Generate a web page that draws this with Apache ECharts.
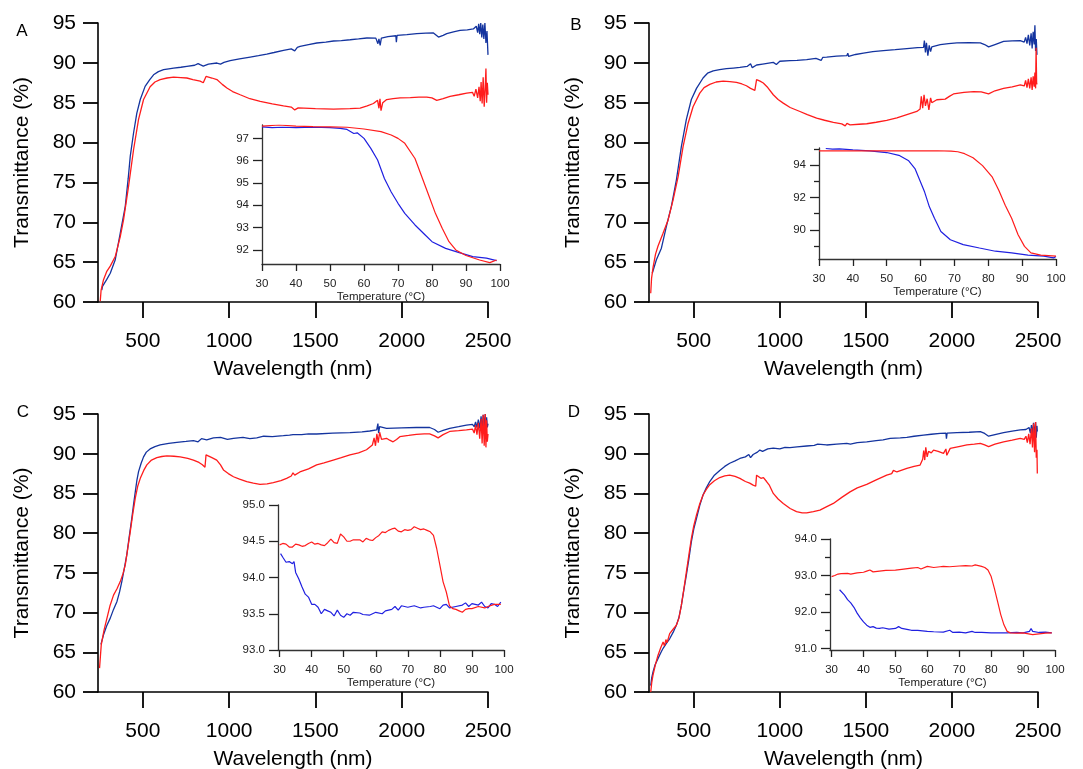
<!DOCTYPE html>
<html><head><meta charset="utf-8">
<script src="https://cdn.jsdelivr.net/npm/echarts@6/dist/echarts.min.js"></script>
<style>html,body{margin:0;padding:0;background:#fff}#c{width:1083px;height:769px}</style>
</head><body><div id="c"></div>
<script>
// ---------------- DATA ----------------
const panelLetters = ['A', 'B', 'C', 'D'];
const wavelengthTicks = [500, 1000, 1500, 2000, 2500];
const temperatureTicks = [30, 40, 50, 60, 70, 80, 90, 100];
const insetA_yTicks = [92, 93, 94, 95, 96, 97];
const insetB_yTicks = [90, 92, 94];
const insetB_yMinorTicks = [89, 91, 93, 95];
const insetC_yTicks = [93, 93.5, 94, 94.5, 95];
const insetD_yTicks = [91, 92, 93, 94];
const insetD_yMinorTicks = [91.5, 92.5, 93.5];

// Panel A main (wavelength nm, transmittance %)
const A_blue = [[262,61.5],[266,61.96],[290,62.8],[311,63.6],[340,65.3],[369,68.65],[398,72],[415,75.5],[427,78.3],[446,81.2],[465,83.7],[485,85.4],[513,87.05],[540,87.9],[562,88.5],[590,88.9],[620,89.14],[650,89.25],[678,89.35],[720,89.45],[755,89.56],[800,89.7],[820,89.9],[832,89.77],[850,89.6],[880,89.85],[929,89.98],[950,89.85],[970,90.05],[1006,90.27],[1060,90.5],[1122,90.73],[1170,90.9],[1218,91.1],[1260,91.3],[1315,91.57],[1360,91.75],[1380,91.5],[1395,91.95],[1411,92.07],[1460,92.3],[1508,92.49],[1560,92.6],[1605,92.74],[1650,92.8],[1701,92.9],[1750,93.0],[1798,93.12],[1850,93.1],[1862,92.4],[1868,93.0],[1875,92.2],[1882,93.1],[1920,93.3],[1966,93.4],[1969,92.6],[1973,93.45],[2030,93.55],[2087,93.66],[2140,93.72],[2184,93.75],[2213,93.24],[2240,93.45],[2261,93.66],[2300,93.9],[2338,94.08],[2380,94.15],[2415,94.25],[2425,94.0],[2432,94.6],[2440,93.8],[2446,94.9],[2452,93.6],[2458,95.0],[2464,93.2],[2470,94.8],[2476,93.0],[2482,95.0],[2488,92.5],[2494,94.0],[2500,91.0]];
const A_red = [[253,60.1],[258,61.5],[272,62.8],[290,63.8],[311,64.5],[340,65.7],[369,68.2],[388,70.3],[417,74.5],[446,79.1],[475,82.9],[504,85.4],[542,87.0],[570,87.6],[600,87.9],[640,88.1],[678,88.2],[720,88.15],[755,88.1],[790,87.9],[832,87.7],[850,87.5],[861,87.4],[866,88.3],[900,88.1],[929,87.9],[960,87.3],[987,86.84],[1020,86.4],[1064,86.0],[1120,85.5],[1180,85.17],[1250,84.85],[1315,84.6],[1360,84.45],[1380,84.1],[1400,84.35],[1411,84.33],[1500,84.25],[1605,84.2],[1700,84.25],[1759,84.33],[1800,84.6],[1836,84.9],[1860,85.3],[1868,84.3],[1874,85.5],[1880,84.0],[1890,85.0],[1913,85.4],[1950,85.5],[1991,85.6],[2050,85.65],[2100,85.7],[2145,85.7],[2175,85.6],[2203,85.3],[2240,85.5],[2280,85.8],[2330,86.0],[2377,86.2],[2410,86.3],[2420,85.8],[2430,86.7],[2440,85.6],[2448,87.0],[2455,85.2],[2460,87.6],[2466,84.9],[2472,88.2],[2478,84.5],[2484,87.0],[2488,89.3],[2492,85.0],[2496,87.5],[2500,86.0]];
// Panel A inset (temperature °C, transmittance %)
const A_inBlue = [[30,97.52],[33,97.48],[36,97.5],[40,97.48],[45,97.5],[50,97.48],[53,97.45],[55,97.4],[57,97.22],[58,97.25],[60,97.0],[62,96.55],[64,96.03],[66,95.2],[68,94.6],[70,94.09],[72,93.64],[75,93.12],[78,92.67],[80,92.37],[84,92.07],[88,91.88],[92,91.7],[96,91.63],[99,91.52]];
const A_inRed = [[30,97.55],[35,97.6],[40,97.55],[45,97.53],[50,97.52],[55,97.5],[60,97.42],[65,97.3],[68,97.15],[70,97.0],[72,96.78],[75,96.1],[77,95.28],[79,94.46],[81,93.64],[83,92.97],[85,92.37],[87,92.0],[90,91.75],[94,91.55],[97,91.43],[99,91.55]];

// Panel B main
const B_blue = [[259,63.6],[283,65.3],[312,66.75],[341,69.5],[370,72],[399,75.3],[428,79.5],[457,82.9],[486,85.4],[516,86.8],[554,88.1],[580,88.7],[613,89.0],[650,89.15],[690,89.27],[730,89.35],[768,89.43],[810,89.55],[830,89.9],[840,89.4],[865,89.73],[900,89.85],[962,90.06],[980,89.8],[1000,90.2],[1059,90.27],[1100,90.3],[1156,90.4],[1210,90.55],[1240,90.3],[1250,90.7],[1272,90.73],[1330,90.85],[1389,90.9],[1395,91.2],[1400,90.8],[1440,91.05],[1486,91.23],[1540,91.4],[1602,91.53],[1670,91.65],[1738,91.78],[1800,91.9],[1835,91.95],[1840,92.8],[1846,91.3],[1852,92.5],[1860,90.9],[1868,92.2],[1876,91.4],[1883,92.0],[1932,92.28],[1980,92.4],[2029,92.5],[2100,92.55],[2165,92.5],[2190,92.3],[2213,92.0],[2250,92.3],[2300,92.7],[2350,92.75],[2397,92.8],[2420,92.6],[2428,93.2],[2436,92.4],[2444,93.5],[2452,92.2],[2460,93.7],[2466,91.8],[2472,93.9],[2478,92.3],[2482,94.7],[2486,91.5],[2490,93.0],[2494,91.0]];
const B_red = [[250,61.1],[255,63.0],[264,64.4],[278,66.0],[292,67.0],[321,68.6],[351,70.3],[380,72.8],[409,75.7],[438,79.5],[467,82.4],[496,84.5],[535,86.2],[560,86.9],[593,87.3],[630,87.6],[671,87.7],[710,87.65],[748,87.55],[780,87.35],[806,87.13],[830,86.8],[855,86.55],[860,86.4],[865,87.9],[885,87.7],[904,87.47],[930,86.9],[962,86.0],[990,85.4],[1020,84.95],[1060,84.4],[1117,83.9],[1160,83.5],[1214,83.07],[1260,82.8],[1311,82.53],[1360,82.35],[1380,82.1],[1390,82.4],[1408,82.23],[1460,82.3],[1505,82.36],[1560,82.55],[1621,82.78],[1680,83.1],[1738,83.5],[1796,83.9],[1815,84.2],[1822,85.8],[1830,84.3],[1838,86.0],[1846,84.6],[1856,85.5],[1866,84.1],[1876,85.6],[1883,85.0],[1912,85.37],[1961,85.45],[1985,85.8],[2009,86.1],[2070,86.3],[2126,86.4],[2170,86.35],[2213,86.1],[2250,86.5],[2300,86.8],[2350,87.0],[2397,87.25],[2420,87.1],[2428,87.8],[2436,86.9],[2444,88.0],[2452,86.8],[2460,88.2],[2466,86.6],[2472,88.3],[2478,87.0],[2482,88.8],[2486,86.8],[2489,91.9],[2492,87.5],[2494,87.3]];
// Panel B inset
const B_inBlue = [[32,95.02],[34,94.98],[36,95.0],[38,94.97],[40,94.93],[45,94.87],[50,94.77],[53.6,94.6],[56.5,94.26],[58.4,93.76],[59.8,93.05],[61.2,92.33],[62.6,91.42],[64.1,90.71],[66,89.9],[68.8,89.39],[72.6,89.09],[77.4,88.88],[82.1,88.68],[86.9,88.58],[91.7,88.44],[96.4,88.38],[99.3,88.27],[100,88.35]];
const B_inRed = [[30,94.87],[40,94.87],[50,94.88],[60,94.87],[65,94.88],[69,94.86],[71,94.82],[73,94.7],[75.5,94.45],[78.3,93.96],[81.2,93.25],[83.1,92.44],[85,91.52],[86.9,90.71],[88.8,89.7],[90.7,88.98],[92.6,88.58],[95.5,88.44],[100,88.38]];

// Panel C main
const C_blue = [[257,66.0],[272,67.2],[290,68.3],[311,69.3],[330,70.4],[350,71.4],[365,72.6],[378,73.9],[392,75.5],[407,77.3],[420,79.4],[436,81.9],[446,83.6],[456,85.2],[465,86.6],[475,87.75],[490,88.8],[504,89.6],[520,90.2],[542,90.6],[570,90.9],[600,91.1],[650,91.3],[697,91.44],[750,91.55],[793,91.65],[820,91.5],[840,91.9],[870,91.75],[909,92.0],[950,92.05],[990,91.8],[1025,91.94],[1080,92.05],[1120,91.9],[1160,92.0],[1200,92.2],[1250,92.15],[1314,92.27],[1350,92.35],[1360,92.1],[1370,92.4],[1420,92.4],[1460,92.5],[1507,92.48],[1600,92.58],[1700,92.65],[1770,92.75],[1815,92.86],[1855,93.0],[1862,93.8],[1866,92.6],[1872,93.4],[1912,93.2],[2000,93.25],[2085,93.3],[2162,93.3],[2190,93.05],[2211,92.7],[2240,92.95],[2278,93.2],[2330,93.4],[2375,93.6],[2410,93.7],[2420,93.4],[2428,94.0],[2436,93.3],[2444,94.3],[2452,93.2],[2460,94.7],[2466,92.9],[2472,94.9],[2478,93.5],[2484,95.0],[2488,93.0],[2492,94.6],[2496,93.3],[2500,93.8]];
const C_red = [[249,63.0],[254,64.5],[259,65.96],[275,67.8],[292,69.3],[310,70.9],[330,72.2],[350,73.0],[369,73.9],[385,74.9],[398,76.0],[412,78.0],[427,80.2],[442,82.5],[456,84.4],[470,85.9],[485,86.9],[505,87.9],[523,88.6],[550,89.2],[581,89.5],[610,89.65],[639,89.72],[680,89.68],[716,89.6],[760,89.4],[793,89.2],[825,88.9],[845,88.6],[855,88.46],[860,88.3],[866,89.85],[900,89.5],[928,89.2],[950,88.6],[967,87.96],[995,87.5],[1025,87.1],[1060,86.8],[1102,86.5],[1140,86.3],[1179,86.15],[1220,86.2],[1256,86.37],[1300,86.6],[1333,86.9],[1360,87.2],[1370,87.6],[1380,87.3],[1410,87.7],[1460,88.1],[1507,88.6],[1550,88.85],[1603,89.2],[1650,89.5],[1700,89.85],[1750,90.1],[1796,90.5],[1830,91.1],[1840,92.0],[1848,91.0],[1856,92.5],[1864,91.4],[1872,92.7],[1883,91.8],[1912,91.94],[1930,91.7],[1950,91.5],[1970,91.8],[1989,92.15],[2040,92.3],[2085,92.44],[2130,92.5],[2162,92.5],[2190,92.25],[2211,92.0],[2240,92.4],[2278,92.8],[2330,92.9],[2375,93.0],[2410,93.1],[2420,92.6],[2428,93.6],[2436,92.4],[2444,93.9],[2452,91.9],[2460,94.4],[2466,91.3],[2472,94.9],[2478,91.0],[2484,95.0],[2488,90.8],[2492,94.2],[2496,91.5],[2500,92.5]];
// Panel C inset
const C_inBlue = [[30.3,94.33],[31,94.28],[32,94.21],[33,94.22],[34,94.19],[34.5,94.22],[35,94.07],[36,93.98],[37,93.87],[38,93.77],[39,93.73],[40,93.63],[41,93.63],[42,93.59],[43,93.5],[44,93.56],[45,93.54],[46,93.52],[47,93.47],[48,93.55],[49,93.48],[50,93.45],[51,93.5],[52,93.48],[53,93.52],[55,93.51],[56,93.49],[58,93.48],[60,93.52],[62,93.5],[63,93.54],[65,93.56],[66,93.6],[67,93.55],[68,93.61],[70,93.59],[72,93.61],[74,93.58],[75,93.59],[77,93.6],[78,93.61],[80,93.57],[81,93.62],[82,93.63],[83,93.58],[85,93.6],[87,93.62],[88,93.65],[89,93.6],[90,93.64],[92,93.62],[93,93.66],[94,93.6],[95,93.58],[96,93.64],[97,93.63],[98,93.6],[99,93.66]];
const C_inRed = [[30,94.45],[31,94.47],[32,94.46],[33,94.42],[34,94.42],[35,94.46],[36,94.45],[37,94.43],[38,94.44],[39,94.47],[40,94.49],[41,94.46],[42,94.47],[43,94.45],[44,94.44],[45,94.48],[46,94.53],[47,94.48],[48,94.47],[49,94.6],[50,94.56],[51,94.5],[52,94.5],[53,94.52],[55,94.52],[56,94.49],[57,94.54],[58,94.52],[59,94.51],[60,94.55],[61,94.58],[62,94.63],[63,94.62],[64,94.65],[65,94.67],[66,94.68],[67,94.64],[68,94.63],[69,94.66],[70,94.65],[71,94.66],[72,94.7],[73,94.68],[74,94.66],[75,94.67],[76,94.65],[77,94.63],[78,94.58],[79,94.4],[80,94.17],[81,93.94],[82,93.8],[83,93.61],[84,93.57],[85,93.56],[86,93.54],[87,93.52],[88,93.56],[89,93.57],[90,93.57],[92,93.6],[94,93.58],[95,93.6],[97,93.63],[99,93.63]];

// Panel D main
const D_blue = [[250,60.8],[256,61.8],[263,62.5],[275,63.4],[292,64.2],[310,65.0],[322,65.5],[340,66.1],[360,66.7],[380,67.5],[399,68.4],[414,69.4],[428,70.9],[442,72.8],[457,74.7],[472,76.8],[486,78.9],[500,80.5],[516,81.85],[535,83.5],[554,84.8],[573,85.7],[593,86.5],[620,87.3],[651,87.9],[680,88.4],[709,88.8],[740,89.1],[768,89.4],[800,89.6],[820,89.9],[830,89.5],[845,89.9],[870,90.2],[884,90.46],[900,90.3],[930,90.6],[962,90.7],[1000,90.6],[1030,90.8],[1059,90.76],[1100,90.85],[1156,90.97],[1200,91.05],[1220,91.2],[1272,91.1],[1330,91.2],[1389,91.3],[1400,91.55],[1410,91.2],[1450,91.4],[1505,91.5],[1560,91.65],[1600,91.75],[1641,91.93],[1700,92.0],[1738,92.06],[1780,92.2],[1835,92.35],[1880,92.45],[1932,92.56],[1965,92.6],[1968,91.9],[1972,92.6],[2029,92.65],[2100,92.7],[2165,92.77],[2190,92.55],[2213,92.2],[2250,92.4],[2300,92.65],[2350,92.85],[2397,93.0],[2430,93.05],[2440,92.8],[2448,93.3],[2456,92.6],[2462,93.6],[2468,92.4],[2474,93.9],[2480,92.2],[2486,94.0],[2490,92.0],[2494,93.5],[2496,92.8]];
const D_red = [[250,60.0],[256,61.2],[263,62.1],[278,63.5],[292,64.6],[307,65.5],[322,66.3],[330,65.8],[338,66.6],[345,66.2],[360,67.35],[380,67.9],[399,68.4],[414,69.3],[428,70.9],[442,72.9],[457,75.1],[472,77.3],[486,79.3],[500,80.9],[516,82.3],[535,83.7],[554,84.8],[573,85.5],[593,86.1],[620,86.6],[651,87.0],[680,87.2],[709,87.3],[740,87.15],[768,86.9],[800,86.5],[825,86.3],[845,86.05],[860,85.9],[865,87.3],[890,86.9],[905,87.0],[923,86.5],[940,86.0],[962,85.0],[990,84.3],[1020,83.74],[1060,83.1],[1097,82.7],[1130,82.55],[1156,82.55],[1195,82.7],[1233,82.9],[1270,83.3],[1311,83.74],[1360,84.5],[1408,85.2],[1450,85.7],[1505,86.13],[1560,86.7],[1621,87.3],[1650,87.5],[1660,87.9],[1680,87.7],[1738,88.15],[1780,88.4],[1815,88.57],[1830,89.3],[1836,90.4],[1842,89.2],[1848,90.8],[1856,89.6],[1864,90.3],[1880,90.1],[1893,90.46],[1920,90.3],[1951,90.04],[1960,89.9],[1965,90.6],[1970,89.8],[1990,90.67],[2040,90.9],[2087,91.1],[2130,91.2],[2165,91.3],[2190,91.1],[2213,90.9],[2250,91.2],[2300,91.5],[2350,91.7],[2397,91.93],[2420,91.8],[2430,92.2],[2438,91.4],[2446,92.5],[2454,91.2],[2462,93.2],[2468,90.8],[2474,93.8],[2480,90.2],[2486,94.0],[2490,89.5],[2494,90.5],[2496,87.5]];
// Panel D inset
const D_inBlue = [[32.5,92.61],[33,92.58],[34,92.47],[35,92.34],[36,92.25],[37,92.13],[38,91.97],[39,91.84],[39.5,91.87],[40,91.73],[41,91.64],[42,91.58],[43,91.6],[44,91.56],[45,91.55],[46,91.57],[48,91.53],[50,91.55],[51,91.6],[52,91.55],[54,91.52],[55,91.5],[57,91.5],[60,91.47],[62,91.46],[65,91.45],[67,91.5],[68,91.44],[70,91.45],[72,91.43],[74,91.47],[75,91.44],[77,91.44],[80,91.43],[83,91.43],[85,91.43],[88,91.44],[90,91.43],[92,91.47],[92.5,91.55],[93,91.47],[95,91.44],[97,91.45],[99,91.43]];
const D_inRed = [[30,92.97],[31,93.0],[32,93.04],[33,93.05],[35,93.06],[36,93.04],[38,93.07],[40,93.09],[41,93.12],[42,93.15],[43,93.1],[45,93.12],[47,93.14],[50,93.15],[52,93.17],[55,93.2],[57,93.22],[58,93.18],[60,93.25],[62,93.22],[64,93.24],[65,93.25],[67,93.24],[70,93.26],[72,93.27],[74,93.26],[75,93.29],[76,93.27],[77,93.25],[78,93.22],[79,93.15],[80,92.97],[81,92.65],[82,92.29],[83,91.93],[84,91.65],[85,91.47],[86,91.43],[88,91.42],[90,91.43],[93,91.38],[95,91.4],[97,91.42],[99,91.43]];

// ---------------- LAYOUT / STYLE ----------------
const FONT = '"Liberation Sans", Arial, sans-serif';
const MAIN_BLUE = '#14349f', INSET_BLUE = '#2020e0', RED = '#ff1c1c';

const mainLayout = [
  {left: 98, top: 23, width: 390, height: 279},
  {left: 649, top: 23, width: 389, height: 279},
  {left: 98, top: 414, width: 390, height: 278},
  {left: 649, top: 414, width: 389, height: 278}
];
const insetLayout = [
  {left: 262, top: 125, width: 238, height: 139, xmin: 30, ymin: 91.37, ymax: 97.6, yTicks: insetA_yTicks, minor: null, dec: 0},
  {left: 819, top: 148, width: 237, height: 111, xmin: 30, ymin: 88.2, ymax: 95.05, yTicks: insetB_yTicks, minor: insetB_yMinorTicks, dec: 0},
  {left: 278, top: 505, width: 226, height: 145, xmin: 29.5, ymin: 93, ymax: 95, yTicks: insetC_yTicks, minor: null, dec: 1},
  {left: 830, top: 539, width: 225, height: 111, xmin: 29.5, ymin: 90.96, ymax: 94, yTicks: insetD_yTicks, minor: insetD_yMinorTicks, dec: 1}
];
const letterPos = [[22, 31], [576, 25], [23, 412], [574, 412]];
const mainData = [[A_blue, A_red], [B_blue, B_red], [C_blue, C_red], [D_blue, D_red]];
const insetData = [[A_inBlue, A_inRed], [B_inBlue, B_inRed], [C_inBlue, C_inRed], [D_inBlue, D_inRed]];

const grids = [], xAxes = [], yAxes = [], series = [], graphics = [];
const txt = (size, color) => ({fontSize: size, color: color || '#000', fontFamily: FONT});

for (let p = 0; p < 4; p++) {
  const gMain = grids.length;
  grids.push(Object.assign({outerBoundsMode: 'none', containLabel: false}, mainLayout[p]));
  const xi = xAxes.length;
  xAxes.push({
    gridIndex: gMain, type: 'value', min: 240, max: 2500,
    axisLine: {show: true, onZero: false, lineStyle: {color: '#000', width: 1.6}},
    axisTick: {show: true, length: 16, customValues: wavelengthTicks, lineStyle: {color: '#000', width: 1.8}},
    axisLabel: Object.assign({customValues: wavelengthTicks, margin: 29, formatter: (v) => String(v)}, txt(21)),
    splitLine: {show: false},
    name: 'Wavelength (nm)', nameLocation: 'middle', nameGap: 57, nameTextStyle: txt(21)
  });
  const yi = yAxes.length;
  yAxes.push({
    gridIndex: gMain, type: 'value', min: 60, max: 95, interval: 5,
    axisLine: {show: true, onZero: false, lineStyle: {color: '#000', width: 1.6}},
    axisTick: {show: true, length: 15, lineStyle: {color: '#000', width: 1.8}},
    axisLabel: Object.assign({margin: 22}, txt(21)),
    splitLine: {show: false},
    name: 'Transmittance (%)', nameLocation: 'middle', nameGap: 65, nameTextStyle: txt(21)
  });
  series.push({type: 'line', xAxisIndex: xi, yAxisIndex: yi, data: mainData[p][0], showSymbol: false, symbol: 'none', lineStyle: {color: MAIN_BLUE, width: 1.3}, animation: false});
  series.push({type: 'line', xAxisIndex: xi, yAxisIndex: yi, data: mainData[p][1], showSymbol: false, symbol: 'none', lineStyle: {color: RED, width: 1.3}, animation: false});

  const L = insetLayout[p];
  const gIn = grids.length;
  grids.push({outerBoundsMode: 'none', containLabel: false, left: L.left, top: L.top, width: L.width, height: L.height});
  const xj = xAxes.length;
  xAxes.push({
    gridIndex: gIn, type: 'value', min: L.xmin, max: 100,
    axisLine: {show: true, onZero: false, lineStyle: {color: '#333', width: 1.3}},
    axisTick: {show: true, length: 7, customValues: temperatureTicks, lineStyle: {color: '#222', width: 1.3}},
    axisLabel: Object.assign({customValues: temperatureTicks, margin: 14}, txt(11.5, '#222')),
    splitLine: {show: false},
    name: 'Temperature (°C)', nameLocation: 'middle', nameGap: 26, nameTextStyle: txt(11.5, '#222')
  });
  const yj = yAxes.length;
  yAxes.push({
    gridIndex: gIn, type: 'value', min: L.ymin, max: L.ymax,
    axisLine: {show: true, onZero: false, lineStyle: {color: '#333', width: 1.3}},
    axisTick: {show: true, length: 9, customValues: L.yTicks, lineStyle: {color: '#222', width: 1.3}},
    axisLabel: Object.assign({customValues: L.yTicks, margin: 13, formatter: (v) => Number(v).toFixed(L.dec)}, txt(11.5, '#222')),
    splitLine: {show: false}
  });
  if (L.minor) {
    yAxes.push({
      gridIndex: gIn, type: 'value', min: L.ymin, max: L.ymax, position: 'left',
      axisLine: {show: false},
      axisTick: {show: true, length: 5, customValues: L.minor, lineStyle: {color: '#222', width: 1.3}},
      axisLabel: {show: false},
      splitLine: {show: false}
    });
  }
  series.push({type: 'line', xAxisIndex: xj, yAxisIndex: yj, data: insetData[p][0], showSymbol: false, symbol: 'none', lineStyle: {color: INSET_BLUE, width: 1.2}, animation: false});
  series.push({type: 'line', xAxisIndex: xj, yAxisIndex: yj, data: insetData[p][1], showSymbol: false, symbol: 'none', lineStyle: {color: RED, width: 1.2}, animation: false});

  graphics.push({type: 'text', x: letterPos[p][0], y: letterPos[p][1],
    style: {text: panelLetters[p], fontSize: 17, fontFamily: FONT, fill: '#000', align: 'center', verticalAlign: 'middle'}});
}

const chart = echarts.init(document.getElementById('c'), null, {renderer: 'canvas'});
chart.setOption({
  animation: false,
  backgroundColor: '#fff',
  grid: grids,
  xAxis: xAxes,
  yAxis: yAxes,
  series: series,
  graphic: graphics
});
</script>
</body></html>
